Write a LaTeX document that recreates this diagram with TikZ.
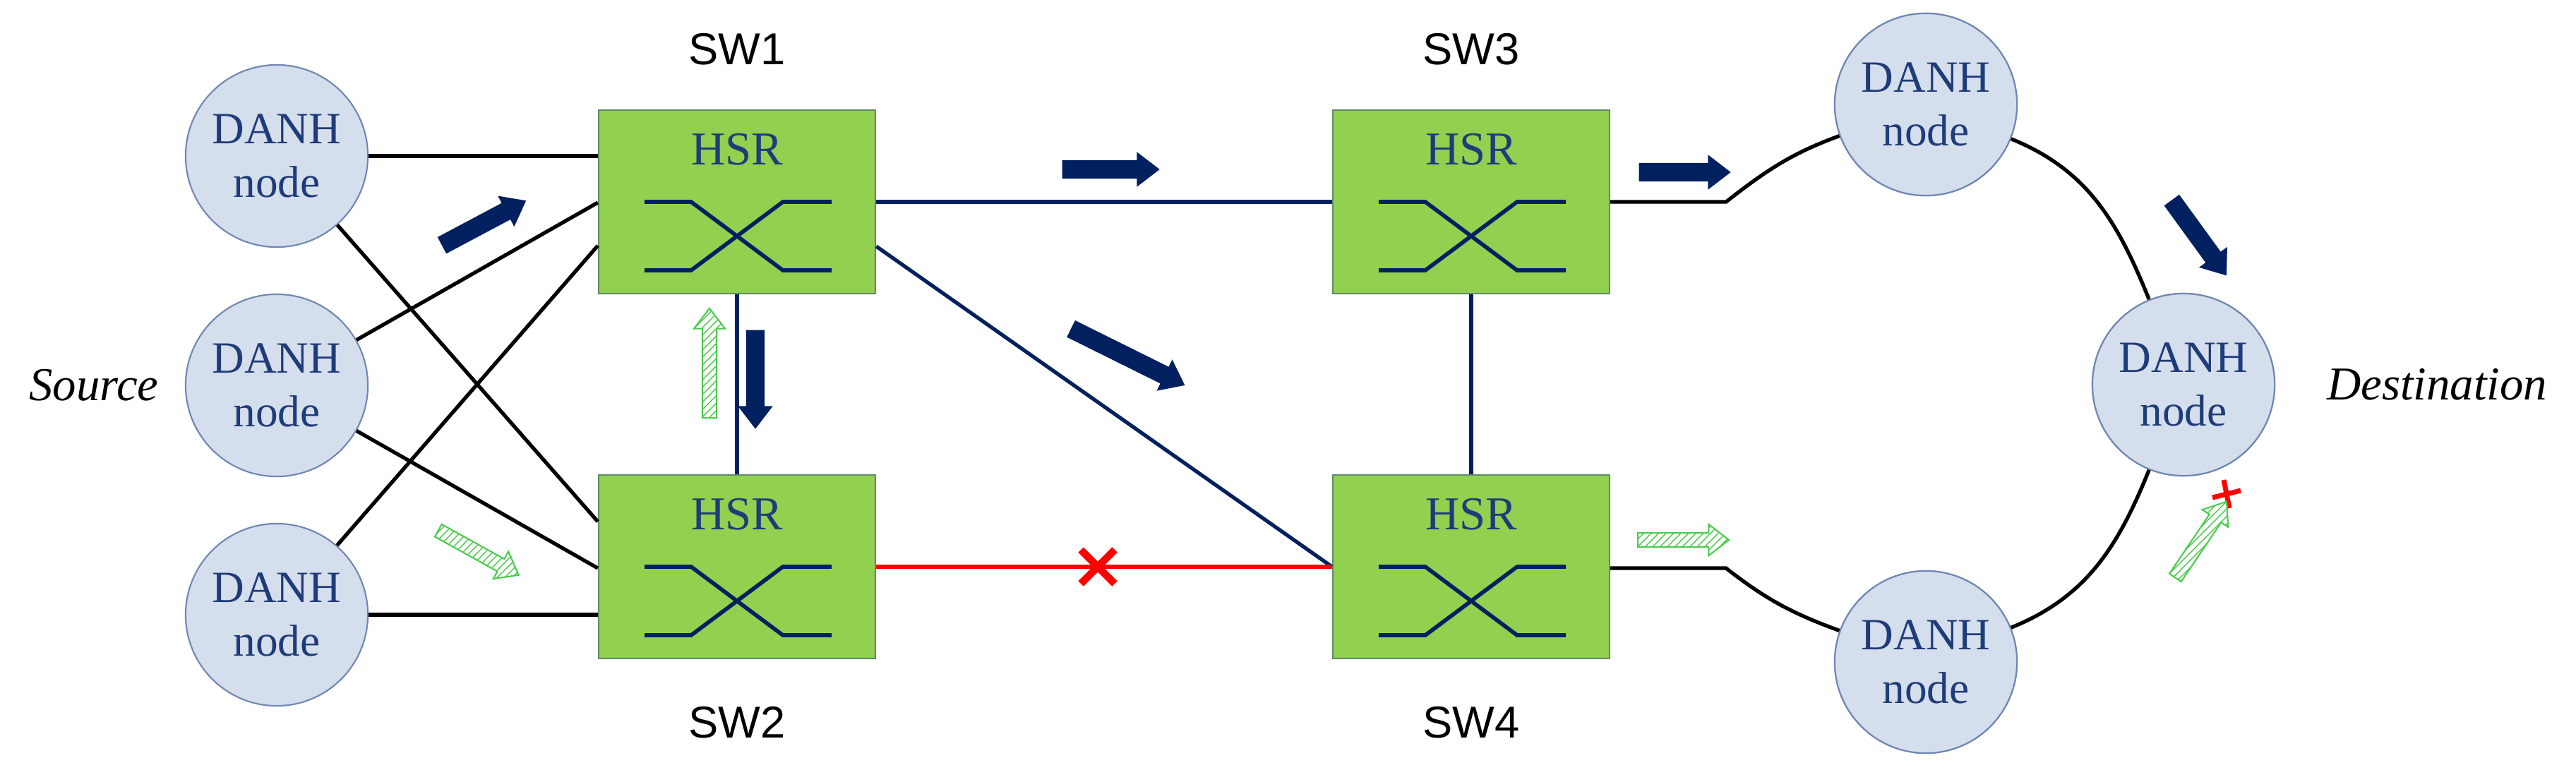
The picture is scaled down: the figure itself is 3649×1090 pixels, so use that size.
\documentclass[tikz,border=0pt]{standalone}
\usepackage{fontspec}
\setmainfont{Liberation Serif}
\newfontfamily\swfont{Liberation Sans}
\usetikzlibrary{calc,shapes.arrows,patterns}
\definecolor{navy}{HTML}{002060}
\definecolor{txtblue}{HTML}{1F3C7A}
\definecolor{cfill}{HTML}{D5DEEC}
\definecolor{cdraw}{HTML}{6F86B4}
\definecolor{gfill}{HTML}{92D050}
\definecolor{gdraw}{HTML}{5E8A6A}
\definecolor{lgreen}{HTML}{4CCB4C}
\begin{document}
\begin{tikzpicture}[x=0.01cm,y=-0.01cm,
  danh/.style={circle,fill=cfill,draw=cdraw,line width=0.6pt,minimum size=2.58cm,inner sep=0pt,align=center,
     text=txtblue,font=\fontsize{18}{21.5}\selectfont},
  sw/.style={rectangle,fill=gfill,draw=gdraw,line width=0.6pt,minimum width=3.92cm,minimum height=2.6cm},
  hsr/.style={text=txtblue,font=\fontsize{19}{22}\selectfont},
  lab/.style={font=\swfont\fontsize{18}{22}\selectfont},
  side/.style={font=\itshape\fontsize{19}{23}\selectfont},
  blk/.style={black,line width=1.5pt},
  blu/.style={navy,line width=1.5pt},
  darr/.style={single arrow,fill=navy,draw=none,inner sep=0.125cm,single arrow head extend=0.115cm,
     single arrow tip angle=75,minimum height=#1},
  garr/.style={single arrow,draw=lgreen,line width=0.6pt,pattern=north east lines,pattern color=lgreen,
     inner sep=0.09cm,single arrow head extend=0.12cm,single arrow tip angle=75,minimum height=#1},
  xr/.style={red,line width=3pt}]
\useasboundingbox (0,0) rectangle (3649,1090);

% switches
\node[sw] (sw1) at (1044,286) {};
\node[sw] (sw2) at (1044,803) {};
\node[sw] (sw3) at (2084,286) {};
\node[sw] (sw4) at (2084,803) {};
\foreach \s in {sw1,sw2,sw3,sw4}{
  \node[hsr] (\s h) at ($(\s)+(0,-74)$) {HSR};
  \draw[navy,line width=1.6pt] ($(\s)+(-131,0)$) -- ($(\s)+(-65,0)$) -- ($(\s)+(65,97)$) -- ($(\s)+(134,97)$);
  \draw[navy,line width=1.6pt] ($(\s)+(-131,97)$) -- ($(\s)+(-65,97)$) -- ($(\s)+(65,0)$) -- ($(\s)+(134,0)$);
}
\node[lab] (l1) at (1044,70) {SW1};
\node[lab] (l2) at (1044,1024) {SW2};
\node[lab] (l3) at (2084,70) {SW3};
\node[lab] (l4) at (2084,1024) {SW4};

% source nodes
\node[danh] (d1) at (392,221) {DANH\\node};
\node[danh] (d2) at (392,546) {DANH\\node};
\node[danh] (d3) at (392,871) {DANH\\node};
\node[side] (src) at (133,546) {Source};

% destination ring nodes
\node[danh] (r1) at (2728,148) {DANH\\node};
\node[danh] (r2) at (3093,545) {DANH\\node};
\node[danh] (r3) at (2728,938) {DANH\\node};
\node[side] (dst) at (3452,545) {Destination};

% left links
\draw[blk] (d1) -- (sw1.west |- 0,221);
\draw[blk] (d1) -- (sw2.west |- 0,739);
\draw[blk] (d2) -- (sw1.west |- 0,287);
\draw[blk] (d2) -- (sw2.west |- 0,805);
\draw[blk] (d3) -- (sw1.west |- 0,348);
\draw[blk] (d3) -- (sw2.west |- 0,871);

% core links
\draw[blu] (sw1.east |- 0,286) -- (sw3.west |- 0,286);
\draw[blu] (sw1.east |- 0,349) -- (sw4.west |- 0,803);
\draw[blu] (sw1.south) -- (sw2.north);
\draw[blu] (sw3.south) -- (sw4.north);
\draw[red,line width=1.5pt] (sw2.east) -- (sw4.west);

% ring
\coordinate (k1) at (2445,286);
\coordinate (k2) at (2445,805);
\draw[blk] (sw3.east |- 0,286) -- (k1) to[out=38,in=200] (r1);
\draw[blk] (r1) to[out=-22,in=112] (r2);
\draw[blk] (r2) to[out=-112,in=22] (r3);
\draw[blk] (sw4.east |- 0,805) -- (k2) to[out=-38,in=160] (r3);
% redraw ring nodes on top
\node[danh] at (r1) {DANH\\node};
\node[danh] at (r2) {DANH\\node};
\node[danh] at (r3) {DANH\\node};

% red crosses
\node (x1) at (1555,803) {};
\draw[xr] ($(x1)+(-24,-24)$) -- ($(x1)+(24,24)$) ($(x1)+(-24,24)$) -- ($(x1)+(24,-24)$);
\node (x2) at (3154,700) {};
\draw[red,line width=2pt] ($(x2)+(-20,5)$) -- ($(x2)+(20,-5)$) ($(x2)+(-4,-20)$) -- ($(x2)+(4,20)$);

% dark flow arrows
\node[darr=1.35cm,rotate=28] (a1) at (678,320) {};
\node[darr=1.38cm,rotate=0] (a2) at (1565,240) {};
\node[darr=1.8cm,rotate=-26.4] (a3) at (1590,502) {};
\node[darr=1.4cm,rotate=-90] (a4) at (1070,529) {};
\node[darr=1.3cm,rotate=0] (a5) at (2378,244) {};
\node[darr=1.32cm,rotate=-54] (a6) at (3110,330) {};

% green (backup) arrows
\node[garr=1.3cm,rotate=-29] (g1) at (672,780) {};
\node[garr=1.55cm,rotate=90] (g2) at (1005,521) {};
\node[garr=1.29cm,rotate=0] (g3) at (2378,765) {};
\node[garr=1.3cm,rotate=56] (g4) at (3114,770) {};
\end{tikzpicture}
\end{document}
